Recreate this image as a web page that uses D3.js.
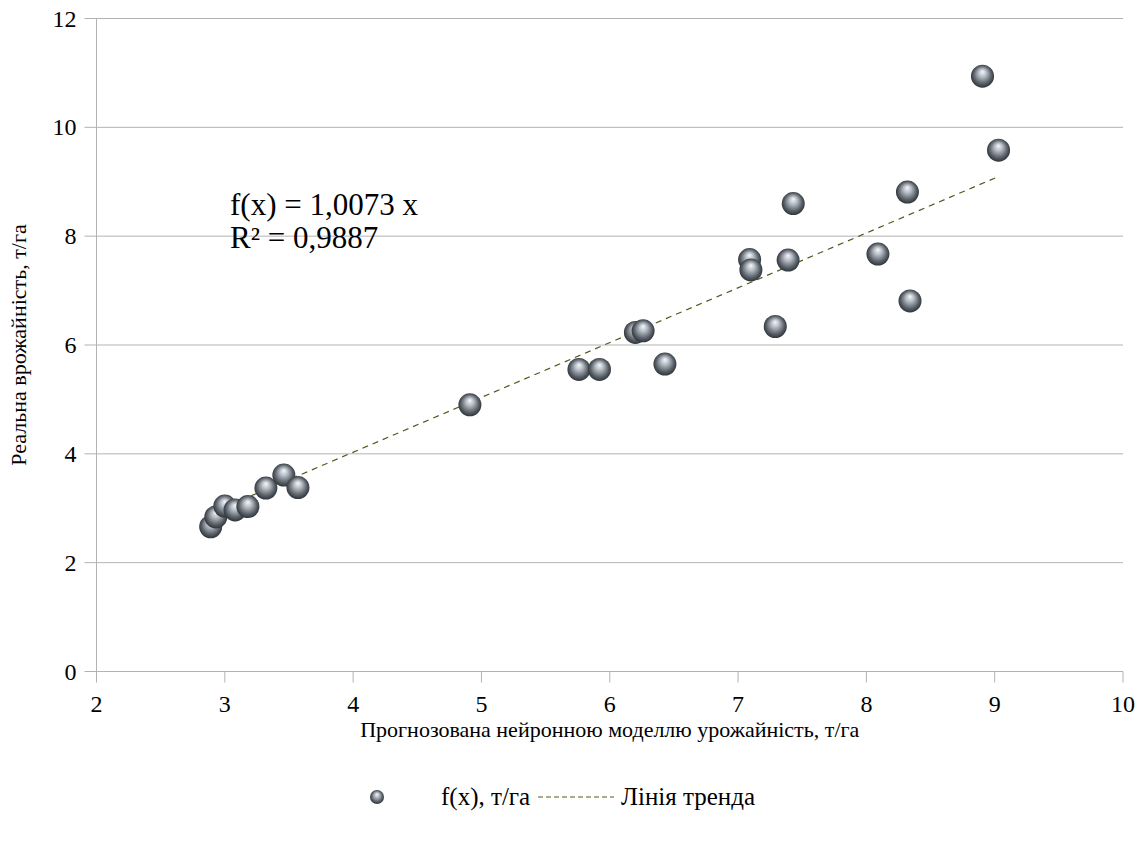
<!DOCTYPE html>
<html>
<head>
<meta charset="utf-8">
<script src="https://cdn.jsdelivr.net/npm/d3@7"></script>
<style>
  body { margin: 0; background: #fff; }
  text { font-family: "Liberation Serif", "DejaVu Serif", serif; fill: #000; }
</style>
</head>
<body>
<div id="vis"></div>
<script>
// predicted (x) vs real (y) yield, t/ha
let predicted = [2.89, 2.93, 3.00, 3.08, 3.18, 3.32, 3.46, 3.57, 4.91, 5.76, 5.92, 6.20, 6.26, 6.43,
                 7.09, 7.10, 7.39, 7.43, 7.29, 8.09, 8.905, 9.03, 8.32, 8.34]
let real = [2.66, 2.84, 3.04, 2.97, 3.03, 3.37, 3.61, 3.38, 4.90, 5.55, 5.55, 6.23, 6.26, 5.65,
            7.57, 7.38, 7.56, 8.60, 6.34, 7.67, 10.94, 9.58, 8.81, 6.81]
let slope = 1.0073
let xTicks = [2, 3, 4, 5, 6, 7, 8, 9, 10]
let yTicks = [0, 2, 4, 6, 8, 10, 12]

let data = predicted.map((d, i) => ({x: d, y: real[i]}))

let width = 1141, height = 842
let margin = {left: 96.5, right: 18, top: 18.5, bottom: 170.5}

let svg = d3.select('#vis').append('svg')
  .attr('width', width)
  .attr('height', height)

let defs = svg.append('defs')
let grad = defs.append('radialGradient')
  .attr('id', 'ball')
  .attr('cx', '50%').attr('cy', '50%').attr('r', '55%')
  .attr('fx', '50%').attr('fy', '30%')
grad.append('stop').attr('offset', '0%').attr('stop-color', '#f6f9fc')
grad.append('stop').attr('offset', '30%').attr('stop-color', '#b8bfc7')
grad.append('stop').attr('offset', '70%').attr('stop-color', '#5a6169')
grad.append('stop').attr('offset', '100%').attr('stop-color', '#22272c')

let x = d3.scaleLinear().domain([2, 10]).range([margin.left, width - margin.right])
let y = d3.scaleLinear().domain([0, 12]).range([height - margin.bottom, margin.top])

// horizontal gridlines
svg.append('g')
  .selectAll('line')
  .data(yTicks)
  .join('line')
  .attr('x1', x(2) - 12)
  .attr('x2', x(10))
  .attr('y1', d => y(d))
  .attr('y2', d => y(d))
  .attr('stroke', '#b3b3b3')
  .attr('stroke-width', 1)

// y axis line
svg.append('line')
  .attr('x1', x(2)).attr('x2', x(2))
  .attr('y1', y(12)).attr('y2', y(0))
  .attr('stroke', '#b3b3b3')

// x ticks
svg.append('g')
  .selectAll('line')
  .data(xTicks)
  .join('line')
  .attr('x1', d => x(d)).attr('x2', d => x(d))
  .attr('y1', y(0)).attr('y2', y(0) + 11)
  .attr('stroke', '#b3b3b3')

svg.append('g')
  .selectAll('text')
  .data(xTicks)
  .join('text')
  .attr('x', d => x(d))
  .attr('y', y(0) + 40)
  .attr('text-anchor', 'middle')
  .style('font-size', '24px')
  .text(d => d)

svg.append('g')
  .selectAll('text')
  .data(yTicks)
  .join('text')
  .attr('x', x(2) - 20)
  .attr('y', d => y(d) + 8)
  .attr('text-anchor', 'end')
  .style('font-size', '24px')
  .text(d => d)

// trend line
let xmin = d3.min(predicted), xmax = d3.max(predicted)
svg.append('line')
  .attr('x1', x(xmin)).attr('y1', y(slope * xmin))
  .attr('x2', x(xmax)).attr('y2', y(slope * xmax))
  .attr('stroke', '#4f5a1e')
  .attr('stroke-width', 1.2)
  .attr('stroke-dasharray', '6,5')

// points
svg.append('g')
  .selectAll('circle')
  .data(data)
  .join('circle')
  .attr('cx', d => x(d.x))
  .attr('cy', d => y(d.y))
  .attr('r', 11.5)
  .attr('fill', 'url(#ball)')

// equation
svg.append('text')
  .attr('x', 230).attr('y', 215)
  .style('font-size', '31px')
  .text('f(x) = 1,0073 x')
svg.append('text')
  .attr('x', 230).attr('y', 248)
  .style('font-size', '31px')
  .text('R² = 0,9887')

// axis titles
svg.append('text')
  .attr('x', (x(2) + x(10)) / 2)
  .attr('y', 737)
  .attr('text-anchor', 'middle')
  .style('font-size', '22px')
  .text('Прогнозована нейронною моделлю урожайність, т/га')

svg.append('text')
  .attr('transform', `translate(26,${(y(0) + y(12)) / 2}) rotate(-90)`)
  .attr('text-anchor', 'middle')
  .style('font-size', '22px')
  .text('Реальна врожайність, т/га')

// legend
let ly = 797
svg.append('circle')
  .attr('cx', 377).attr('cy', ly)
  .attr('r', 7)
  .attr('fill', 'url(#ball)')
svg.append('text')
  .attr('x', 441).attr('y', ly + 8)
  .style('font-size', '25px')
  .text('f(x), т/га')
svg.append('line')
  .attr('x1', 538).attr('x2', 614)
  .attr('y1', ly).attr('y2', ly)
  .attr('stroke', '#4f5a1e')
  .attr('stroke-width', 1)
  .attr('stroke-dasharray', '5,3')
svg.append('text')
  .attr('x', 621).attr('y', ly + 8)
  .style('font-size', '25px')
  .text('Лінія тренда')
</script>
</body>
</html>
